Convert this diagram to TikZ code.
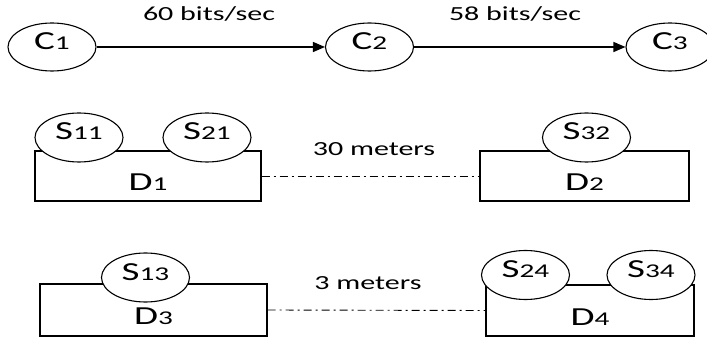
\documentclass[tikz,border=0pt]{standalone}
\usepackage{fontspec}
\setmainfont{Carlito}[FakeStretch=1.5]
\usetikzlibrary{shapes.geometric,arrows.meta}
\newcommand{\mylab}[2]{{\fontsize{26}{26}\selectfont #1}{\fontsize{19.5}{19.5}\selectfont #2}}
\tikzset{
  comp/.style={ellipse,draw,line width=1.1pt,fill=white,minimum width=88pt,minimum height=48pt,inner sep=0pt,text height=17pt,text depth=12pt},
  sens/.style={ellipse,draw,line width=1.1pt,fill=white,minimum width=88pt,minimum height=49pt,inner sep=0pt,text height=17pt,text depth=12pt},
  dev/.style={rectangle,draw,line width=1.3pt,inner sep=0pt,text height=29pt,text depth=0pt},
  lbl/.style={font=\fontsize{20}{20}\selectfont,inner sep=0pt},
  flow/.style={line width=1.3pt,-{Triangle[length=12pt,width=10pt]}},
  dist/.style={line width=0.9pt,dash pattern=on 8pt off 4pt on 2pt off 4pt}
}
\begin{document}
\begin{tikzpicture}[x=1pt,y=-1pt]
\useasboundingbox[fill=white] (0,0) rectangle (707,339);
% computers
\node[comp] (C1) at (52,47) {\mylab{C}{1}};
\node[comp] (C2) at (369.5,47) {\mylab{C}{2}};
\node[comp] (C3) at (670,47) {\mylab{C}{3}};
\draw[flow] (C1.east) -- (C2.west);
\draw[flow] (C2.east) -- (C3.west);
\node[lbl] (L1) at (209,14) {60 bits/sec};
\node[lbl] (L2) at (515,14) {58 bits/sec};
% devices
\node[dev,minimum width=226pt,minimum height=50pt] (D1) at (148,176) {\mylab{D}{1}};
\node[dev,minimum width=209pt,minimum height=50pt] (D2) at (584.5,176) {\mylab{D}{2}};
\node[dev,minimum width=227pt,minimum height=52pt] (D3) at (153.5,310) {\mylab{D}{3}};
\node[dev,minimum width=208pt,minimum height=51pt] (D4) at (590,310.5) {\mylab{D}{4}};
% sensors
\node[sens] (S11) at (79,137.5) {\mylab{S}{11}};
\node[sens] (S21) at (207,137.5) {\mylab{S}{21}};
\node[sens] (S32) at (586.5,137.5) {\mylab{S}{32}};
\node[sens] (S13) at (145.5,277.5) {\mylab{S}{13}};
\node[sens] (S24) at (525.5,275) {\mylab{S}{24}};
\node[sens] (S34) at (651,275) {\mylab{S}{34}};
% distances
\draw[dist] (D1.east) -- (D2.west);
\draw[dist] (D3.east) -- (D4.west);
\node[lbl] (M1) at (374,149) {30 meters};
\node[lbl] (M2) at (368,283) {3 meters};
\end{tikzpicture}
\end{document}
